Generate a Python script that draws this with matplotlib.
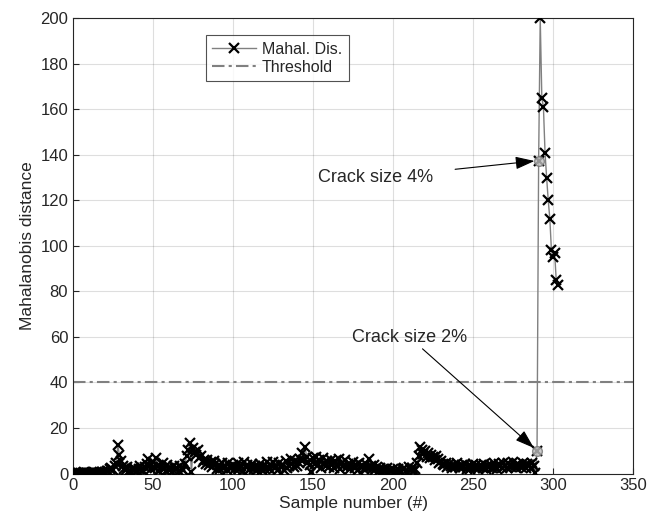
"""Mahalanobis distance vs sample number, with crack annotations."""

import matplotlib
matplotlib.use("Agg")
import matplotlib.pyplot as plt
import numpy as np

plt.rcParams["font.family"] = ["Liberation Sans", "DejaVu Sans"]

# Undamaged / early samples 1..289
baseline = [
    0.3, 0.2, 0.4, 0.3, 0.2, 0.3, 0.5, 0.4, 0.3, 0.2, 0.4, 0.3, 0.5, 0.3, 0.4, 0.2, 0.6, 0.5, 0.4, 0.8,
    1.2, 1.0, 1.8, 2.5, 1.5, 3.2, 4.6, 12.4, 8.0, 5.3, 3.1, 2.2, 1.5, 2.8, 1.2, 0.8, 1.9, 2.6, 1.4, 0.9,
    2.1, 3.4, 1.6, 0.9, 2.7, 4.1, 6.5, 3.2, 1.8, 5.2, 2.4, 6.8, 3.5, 1.2, 2.9, 4.8, 2.1, 1.0, 3.6, 1.7,
    2.5, 0.8, 3.1, 1.9, 2.4, 1.2, 3.3, 2.0, 1.5, 4.2, 7.8, 10.5, 13.2, 0.6, 11.0, 9.4, 8.1, 10.2, 6.9, 7.6,
    5.2, 6.1, 4.3, 5.8, 3.6, 4.9, 2.8, 5.3, 4.1, 2.2, 3.7, 1.9, 4.4, 2.6, 3.2, 1.4, 4.8, 3.0, 2.3, 3.9,
    1.8, 2.9, 4.6, 2.1, 3.4, 1.3, 5.1, 2.7, 3.6, 1.6, 2.4, 4.0, 2.0, 3.3, 1.5, 2.8, 4.3, 1.7, 3.1, 2.2,
    4.9, 2.6, 1.8, 3.7, 5.0, 2.3, 3.5, 1.4, 4.4, 2.9, 3.8, 1.6, 5.3, 2.4, 3.1, 6.2, 4.0, 2.7, 5.6, 3.4,
    4.7, 6.5, 8.9, 6.1, 11.8, 7.4, 5.2, 3.6, 0.7, 6.6, 4.3, 7.2, 3.9, 5.8, 2.6, 6.9, 4.5, 3.2, 5.5, 2.8,
    6.0, 4.1, 2.5, 5.4, 3.7, 6.3, 2.2, 4.8, 3.3, 5.9, 2.7, 4.2, 1.9, 3.8, 5.1, 2.4, 3.6, 1.7, 4.5, 2.9,
    3.4, 1.8, 4.0, 2.6, 6.4, 3.1, 2.0, 3.7, 1.5, 2.8, 1.2, 2.3, 0.8, 1.9, 1.1, 2.5, 0.6, 1.6, 0.9, 2.1,
    1.3, 0.7, 2.2, 1.0, 0.5, 1.8, 2.6, 1.2, 0.4, 3.0, 1.5, 2.4, 0.9, 2.0, 4.5, 7.8, 11.8, 10.2, 8.6, 9.8,
    7.4, 9.0, 6.8, 8.3, 7.1, 5.9, 7.6, 6.2, 4.8, 5.5, 4.1, 3.6, 4.7, 3.0, 4.2, 3.4, 2.6, 3.9, 2.8, 4.4,
    3.1, 2.5, 3.8, 2.9, 4.3, 2.2, 3.5, 1.9, 3.2, 4.0, 2.4, 3.6, 1.8, 2.9, 3.7, 2.3, 4.1, 2.0, 3.3, 2.7,
    3.9, 2.4, 4.6, 3.0, 2.1, 4.2, 3.5, 2.6, 4.8, 3.1, 2.3, 4.4, 3.7, 2.8, 5.0, 3.4, 2.5, 4.1, 3.6, 2.9,
    4.7, 3.3, 2.6, 4.2, 3.8, 2.4, 4.5, 3.1, 0.2,
]
# Damaged samples 290..303
damaged = [10.0, 137.5, 200.0, 165.0, 161.0, 141.0, 130.0, 120.0, 112.0, 98.0, 95.0, 97.0, 85.0, 83.0]

mahal = np.array(baseline + damaged)
samples = np.arange(1, len(mahal) + 1)
threshold = 40.0

crack_2_idx = len(baseline)       # first damaged sample
crack_4_idx = len(baseline) + 1

TXT = (0.15, 0.15, 0.15)


def main():
    fig = plt.figure(figsize=(6.48, 5.29), dpi=100)
    ax = fig.add_axes([0.1127, 0.1049, 0.8642, 0.8605])

    ax.plot(samples, mahal, color=(0.5, 0.5, 0.5), lw=1.0, marker="x", ms=7,
            mec="black", mew=1.6, label="Mahal. Dis.", zorder=3)
    ax.axhline(threshold, color=(0.5, 0.5, 0.5), lw=1.5, linestyle=(0, (6, 2, 1.5, 2)),
               label="Threshold", zorder=2)

    # highlighted crack points
    hx = [samples[crack_2_idx], samples[crack_4_idx]]
    hy = [mahal[crack_2_idx], mahal[crack_4_idx]]
    ax.plot(hx, hy, linestyle="none", marker="o", ms=7, mfc=(0.75, 0.75, 0.75),
            mec=(0.45, 0.45, 0.45), mew=1.0, alpha=0.8, zorder=4)

    arrow = dict(arrowstyle="-|>,head_length=0.9,head_width=0.3", color="black",
                 lw=0.8, shrinkA=0, shrinkB=3)
    ax.annotate("Crack size 2%", xy=(hx[0], hy[0]), xytext=(210.5, 56),
                ha="center", va="bottom", fontsize=13, color=TXT,
                arrowprops=arrow)
    ax.annotate("Crack size 4%", xy=(hx[1], hy[1]), xytext=(189, 130),
                ha="center", va="center", fontsize=13, color=TXT,
                arrowprops=dict(arrow, shrinkA=14))

    ax.set_xlim(0, 350)
    ax.set_ylim(0, 200)
    ax.set_xticks(np.arange(0, 351, 50))
    ax.set_yticks(np.arange(0, 201, 20))
    ax.grid(True, color=(0.15, 0.15, 0.15), alpha=0.15, lw=0.8)
    ax.tick_params(direction="in", labelsize=12, colors=TXT, length=4)
    for sp in ax.spines.values():
        sp.set_color(TXT)
        sp.set_linewidth(0.8)

    ax.set_xlabel("Sample number (#)", fontsize=12.5, color=TXT, labelpad=2)
    ax.set_ylabel("Mahalanobis distance", fontsize=12.5, color=TXT, labelpad=4)

    leg = ax.legend(loc="upper left", bbox_to_anchor=(0.2375, 0.963), borderaxespad=0,
                    fontsize=11.5, frameon=True, fancybox=False, handlelength=2.7,
                    handletextpad=0.4, borderpad=0.4, labelspacing=0.2)
    leg.get_frame().set_edgecolor(TXT)
    leg.get_frame().set_linewidth(0.8)
    for t in leg.get_texts():
        t.set_color(TXT)

    fig.savefig("out.png", dpi=100)
    plt.close(fig)


if __name__ == "__main__":
    main()
